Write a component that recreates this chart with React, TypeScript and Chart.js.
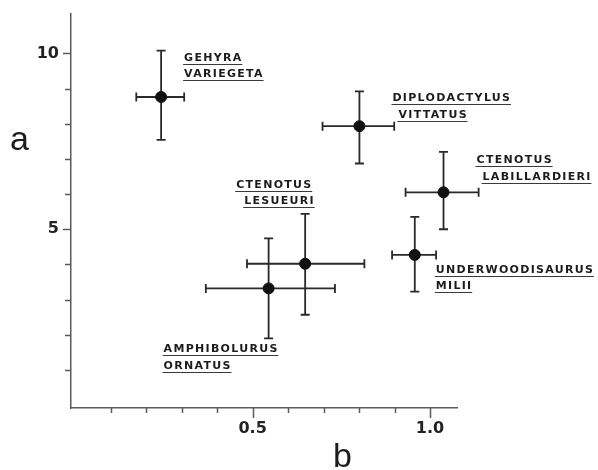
import React, { useEffect, useRef } from "react";
import { Chart, registerables } from "chart.js";

Chart.register(...registerables);

// ---- data ----
const speciesLines: string[][] = [
  ["GEHYRA", "VARIEGETA"],
  ["DIPLODACTYLUS", "VITTATUS"],
  ["CTENOTUS", "LABILLARDIERI"],
  ["UNDERWOODISAURUS", "MILII"],
  ["CTENOTUS", "LESUEURI"],
  ["AMPHIBOLURUS", "ORNATUS"],
];
const bValues = [0.242, 0.801, 1.038, 0.957, 0.648, 0.545];
const aValues = [8.76, 7.93, 6.05, 4.27, 4.02, 3.32];
const bLow = [0.172, 0.697, 0.931, 0.893, 0.484, 0.368];
const bHigh = [0.307, 0.899, 1.137, 1.017, 0.815, 0.732];
const aLow = [7.54, 6.87, 5.0, 3.23, 2.57, 1.9];
const aHigh = [10.08, 8.92, 7.2, 5.35, 5.44, 4.74];

const xTickValues = [0.1, 0.2, 0.3, 0.4, 0.5, 0.6, 0.7, 0.8, 0.9, 1.0];
const xTickLabels: Record<string, string> = { "0.5": "0.5", "1": "1.0" };
const yTickValues = [1, 2, 3, 4, 5, 6, 7, 8, 9, 10];
const yTickLabels: Record<string, string> = { "5": "5", "10": "10" };

const xAxisTitle = "b";
const yAxisTitle = "a";

// ---- layout (pixel offsets of labels from their points) ----
const labelLayout = [
  { dx: 23, dy: -36, indent: 0 },
  { dx: 33, dy: -25, indent: 6 },
  { dx: 33, dy: -29, indent: 6 },
  { dx: 21, dy: 18, indent: 0 },
  { dx: -69, dy: -76, indent: 8 },
  { dx: -105, dy: 64, indent: 0 },
];

const INK = "#1c1c1c";
const AXIS = "#5a5a5a";

const overlayPlugin = {
  id: "overlay",
  beforeDatasetsDraw(chart: any) {
    const { ctx, scales } = chart;
    const xs = scales.x;
    const ys = scales.y;
    ctx.save();
    ctx.strokeStyle = "#2a2a2a";
    ctx.lineWidth = 1.8;
    const cap = 4.5;
    for (let i = 0; i < bValues.length; i++) {
      const px = xs.getPixelForValue(bValues[i]);
      const py = ys.getPixelForValue(aValues[i]);
      const x0 = xs.getPixelForValue(bLow[i]);
      const x1 = xs.getPixelForValue(bHigh[i]);
      const y0 = ys.getPixelForValue(aLow[i]);
      const y1 = ys.getPixelForValue(aHigh[i]);
      ctx.beginPath();
      ctx.moveTo(x0, py);
      ctx.lineTo(x1, py);
      ctx.moveTo(x0, py - cap);
      ctx.lineTo(x0, py + cap);
      ctx.moveTo(x1, py - cap);
      ctx.lineTo(x1, py + cap);
      ctx.moveTo(px, y0);
      ctx.lineTo(px, y1);
      ctx.moveTo(px - cap, y0);
      ctx.lineTo(px + cap, y0);
      ctx.moveTo(px - cap, y1);
      ctx.lineTo(px + cap, y1);
      ctx.stroke();
    }
    ctx.restore();
  },
  afterDraw(chart: any) {
    const { ctx, scales, chartArea } = chart;
    const xs = scales.x;
    const ys = scales.y;
    ctx.save();
    // tick marks
    ctx.strokeStyle = AXIS;
    ctx.lineWidth = 1.5;
    ctx.beginPath();
    for (const v of xTickValues) {
      const px = Math.round(xs.getPixelForValue(v)) + 0.5;
      const major = xTickLabels[String(v)] !== undefined;
      ctx.moveTo(px, chartArea.bottom);
      ctx.lineTo(px, chartArea.bottom + (major ? 10 : 5));
    }
    for (const v of yTickValues) {
      const py = Math.round(ys.getPixelForValue(v)) + 0.5;
      const major = yTickLabels[String(v)] !== undefined;
      ctx.moveTo(chartArea.left, py);
      ctx.lineTo(chartArea.left - (major ? 8 : 6), py);
    }
    ctx.stroke();

    // axis titles
    ctx.fillStyle = INK;
    ctx.font = "34px 'Liberation Sans', Arial, sans-serif";
    ctx.textAlign = "left";
    ctx.textBaseline = "alphabetic";
    ctx.fillText(yAxisTitle, 10, 150);
    ctx.fillText(xAxisTitle, 333, 467);

    // species labels
    ctx.font = "bold 11px 'DejaVu Sans', sans-serif";
    (ctx as any).letterSpacing = "1.3px";
    ctx.textBaseline = "alphabetic";
    const lineGap = 16.5;
    for (let i = 0; i < speciesLines.length; i++) {
      const px = xs.getPixelForValue(bValues[i]);
      const py = ys.getPixelForValue(aValues[i]);
      const lay = labelLayout[i];
      speciesLines[i].forEach((line, j) => {
        const lx = px + lay.dx + (j > 0 ? lay.indent : 0);
        const ly = py + lay.dy + j * lineGap;
        ctx.fillStyle = INK;
        ctx.fillText(line, lx, ly);
        const w = ctx.measureText(line).width - 1.3;
        ctx.strokeStyle = "#3a3a3a";
        ctx.lineWidth = 1.2;
        ctx.beginPath();
        ctx.moveTo(lx - 1, Math.round(ly + 3) + 0.5);
        ctx.lineTo(lx + w + 1, Math.round(ly + 3) + 0.5);
        ctx.stroke();
      });
    }
    ctx.restore();
  },
};

export default function App() {
  const ref = useRef<HTMLCanvasElement | null>(null);
  useEffect(() => {
    if (!ref.current) return;
    const chart = new Chart(ref.current, {
      type: "scatter",
      data: {
        datasets: [
          {
            data: bValues.map((b, i) => ({ x: b, y: aValues[i] })),
            backgroundColor: "#111",
            borderColor: "#111",
            pointRadius: 5.5,
            pointHoverRadius: 5.5,
          },
        ],
      },
      options: {
        responsive: false,
        animation: false,
        events: [],
        layout: { padding: { left: 0, top: 11, right: 141, bottom: 0 } },
        plugins: { legend: { display: false }, tooltip: { enabled: false } },
        scales: {
          x: {
            type: "linear",
            min: -0.012,
            max: 1.076,
            afterFit: (s: any) => {
              s.height = 62;
            },
            afterBuildTicks: (s: any) => {
              s.ticks = xTickValues.map((v) => ({ value: v }));
            },
            grid: { display: false, drawTicks: true, tickLength: 10 },
            border: { display: true, color: AXIS, width: 1.5 },
            ticks: {
              autoSkip: false,
              maxRotation: 0,
              padding: 1,
              color: "#222",
              font: { family: "'DejaVu Sans', sans-serif", size: 16, weight: "bold" },
              callback: (v: any) => xTickLabels[String(Number(v))] ?? "",
            },
          },
          y: {
            type: "linear",
            min: -0.08,
            max: 11.13,
            afterFit: (s: any) => {
              s.width = 71;
            },
            afterBuildTicks: (s: any) => {
              s.ticks = yTickValues.map((v) => ({ value: v }));
            },
            grid: { display: false, drawTicks: true, tickLength: 8 },
            border: { display: true, color: AXIS, width: 1.5 },
            ticks: {
              autoSkip: false,
              padding: 4,
              color: "#222",
              font: { family: "'DejaVu Sans', sans-serif", size: 16, weight: "bold" },
              callback: (v: any) => yTickLabels[String(Number(v))] ?? "",
            },
          },
        },
      },
      plugins: [overlayPlugin],
    });
    return () => chart.destroy();
  }, []);
  return (
    <div style={{ position: "absolute", left: 0, top: 0, width: 598, height: 470, background: "#fff" }}>
      <canvas ref={ref} width={598} height={470} />
    </div>
  );
}
